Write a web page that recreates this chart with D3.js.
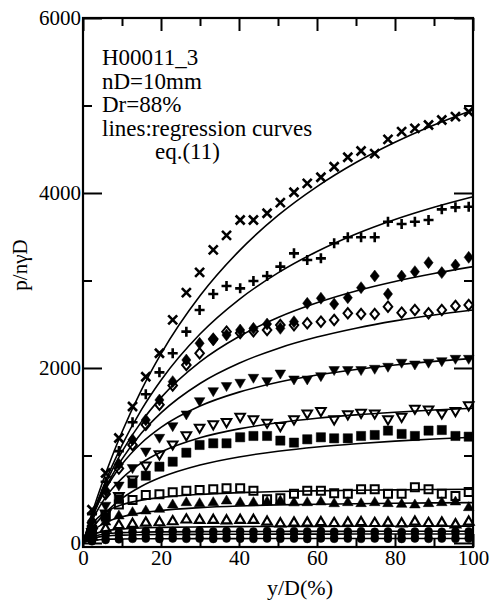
<!DOCTYPE html>
<html>
<head>
<meta charset="utf-8">
<script src="https://cdn.jsdelivr.net/npm/d3@7/dist/d3.min.js"></script>
<style>
  html, body { margin: 0; padding: 0; background: #fff; }
  svg { display: block; }
  text { font-family: "Liberation Serif", "Times New Roman", serif; fill: #000; }
</style>
</head>
<body>
<svg id="chart" width="491" height="602"></svg>
<script>
// Measurement depths y/D (%) shared by all load steps
const yD = [2.3, 5.8, 9.2, 12.7, 16.1, 19.6, 23.0, 26.5, 29.9, 33.4, 36.8, 40.3, 43.7, 47.2, 50.6,
            54.1, 57.5, 61.0, 64.4, 67.9, 71.3, 74.8, 78.2, 81.7, 85.1, 88.6, 92.0, 95.5, 98.9];

// Normalised soil reaction p/nγD for each load step
const pCross = [380, 800, 1200, 1560, 1900, 2168, 2549, 2861, 3093, 3349, 3516, 3691, 3691, 3768, 3889,
                4008, 4110, 4180, 4300, 4408, 4480, 4450, 4613, 4701, 4739, 4777, 4834, 4872, 4929];
const pPlus = [330, 700, 1050, 1380, 1700, 1950, 2168, 2415, 2663, 2846, 2937, 2910, 2994, 3051, 3158,
               3310, 3234, 3253, 3425, 3494, 3494, 3494, 3672, 3646, 3672, 3691, 3813, 3836, 3843];
const pDiamond = [250, 600, 900, 1180, 1406, 1634, 1844, 2091, 2282, 2320, 2377, 2434, 2453, 2503, 2453,
                  2529, 2739, 2797, 2731, 2803, 2918, 3051, 2846, 3051, 3101, 3204, 3090, 3177, 3265];
const pDiamondOpen = [230, 560, 850, 1120, 1350, 1580, 1800, 2034, 2168, 2330, 2415, 2400, 2420, 2434, 2491,
                      2490, 2511, 2529, 2549, 2625, 2617, 2617, 2701, 2632, 2663, 2625, 2663, 2709, 2720];
const pTriDown = [150, 420, 650, 850, 1040, 1196, 1329, 1463, 1615, 1729, 1787, 1825, 1882, 1844, 1931,
                  1863, 1863, 1901, 1970, 1970, 1970, 1985, 2008, 2054, 2034, 2054, 2072, 2099, 2099];
const pTriDownOpen = [120, 330, 530, 720, 880, 1006, 1120, 1223, 1311, 1349, 1375, 1436, 1406, 1368, 1329,
                      1406, 1474, 1501, 1406, 1463, 1482, 1474, 1406, 1436, 1528, 1520, 1474, 1501, 1566];
const pSquare = [100, 300, 500, 682, 769, 872, 929, 1032, 1120, 1139, 1139, 1208, 1223, 1223, 1170,
                 1147, 1185, 1208, 1196, 1196, 1223, 1234, 1284, 1246, 1223, 1284, 1291, 1223, 1215];
const pSquareOpen = [150, 320, 440, 491, 549, 557, 579, 598, 606, 614, 625, 625, 598, 499, 511,
                     564, 598, 598, 568, 564, 614, 614, 564, 564, 636, 614, 564, 537, 583];
const pTriUp = [100, 250, 320, 358, 377, 396, 446, 472, 461, 472, 491, 472, 472, 480, 490,
                470, 472, 480, 460, 472, 461, 472, 461, 453, 446, 461, 472, 480, 415];
const pTriUpOpen = [80, 170, 210, 225, 240, 244, 255, 275, 270, 270, 265, 270, 270, 250, 230,
                    240, 240, 245, 235, 240, 245, 235, 240, 230, 250, 235, 240, 220, 250];
const pDot = [60, 100, 120, 130, 135, 140, 138, 135, 140, 132, 138, 135, 130, 138, 128,
              135, 130, 136, 128, 132, 135, 128, 132, 126, 130, 134, 128, 130, 132];
const pSmallSquare = [40, 70, 85, 95, 100, 98, 102, 96, 100, 95, 100, 98, 102, 96, 100,
                      94, 98, 102, 96, 100, 95, 99, 102, 96, 100, 94, 98, 102, 97];
const pLowDot = [20, 35, 42, 48, 50, 46, 52, 48, 50, 46, 52, 49, 47, 51, 48,
                 50, 46, 52, 48, 50, 47, 51, 49, 46, 52, 48, 50, 47, 51];

// Regression curves, eq.(11), tabulated along y/D
const curveYD = [0, 1, 2.5, 5, 7.5, 10, 15, 20, 30, 40, 50, 60, 70, 80, 90, 100];
const fitCross = [0, 150, 365, 695, 995, 1269, 1751, 2162, 2825, 3336, 3743, 4073, 4348, 4579, 4777, 4948];
const fitPlus = [0, 137, 330, 623, 884, 1119, 1524, 1860, 2388, 2782, 3087, 3331, 3531, 3697, 3837, 3957];
const fitDiamond = [0, 136, 323, 598, 836, 1043, 1387, 1661, 2070, 2360, 2577, 2745, 2880, 2989, 3080, 3158];
const fitDiamondOpen = [0, 130, 306, 560, 775, 958, 1256, 1487, 1823, 2054, 2224, 2353, 2455, 2538, 2606, 2663];
const fitTriDown = [0, 134, 309, 550, 742, 900, 1143, 1321, 1565, 1724, 1836, 1919, 1983, 2034, 2076, 2110];
const fitTriDownOpen = [0, 119, 271, 469, 620, 739, 915, 1039, 1202, 1304, 1374, 1425, 1464, 1494, 1519, 1539];
const fitSquare = [0, 75, 174, 310, 419, 509, 648, 750, 891, 983, 1048, 1097, 1134, 1164, 1188, 1208];
const fitSquareOpen = [0, 113, 223, 332, 395, 437, 490, 521, 556, 575, 588, 596, 602, 607, 611, 614];
const fitTriUp = [0, 66, 138, 216, 265, 299, 344, 372, 404, 423, 435, 443, 449, 454, 458, 461];
const fitTriUpOpen = [0, 45, 95, 130, 150, 160, 172, 178, 184, 187, 189, 190, 191, 192, 193, 193];
const fitDot = [0, 35, 70, 100, 112, 118, 124, 127, 130, 131, 132, 133, 133, 134, 134, 134];
const fitSmallSquare = [0, 30, 55, 75, 85, 90, 95, 97, 99, 100, 101, 101, 102, 102, 102, 102];
const fitLowDot = [0, 18, 30, 40, 44, 46, 48, 49, 50, 50, 51, 51, 51, 51, 51, 51];

// Axis ticks
const xTickLabels = [0, 20, 40, 60, 80, 100];
const xMinorTicks = [10, 30, 50, 70, 90];
const yTickLabels = [0, 2000, 4000, 6000];
const yMinorTicks = [1000, 3000, 5000];

const infoLines = ["H00011_3", "nD=10mm", "Dr=88%", "lines:regression curves"];
const infoEq = "eq.(11)";

// Marker shapes (drawn centred on the point)
const shapes = {
  cross:      { d: "M-4.5,-4.5L4.5,4.5M-4.5,4.5L4.5,-4.5", fill: "none", stroke: 2.6 },
  plus:       { d: "M-5,0L5,0M0,-5L0,5", fill: "none", stroke: 2.6 },
  diamond:    { d: "M0,-6L4.6,0L0,6L-4.6,0Z", fill: "#000", stroke: 0.5 },
  diamondO:   { d: "M0,-5.2L4.3,0L0,5.2L-4.3,0Z", fill: "none", stroke: 2 },
  triDown:    { d: "M-5.3,-4L5.3,-4L0,5Z", fill: "#000", stroke: 0.5 },
  triDownO:   { d: "M-4.8,-3.6L4.8,-3.6L0,4.6Z", fill: "none", stroke: 2 },
  square:     { d: "M-4.6,-4.6h9.2v9.2h-9.2Z", fill: "#000", stroke: 0.5 },
  squareO:    { d: "M-4,-4h8v8h-8Z", fill: "none", stroke: 2 },
  triUp:      { d: "M0,-5L5.3,4L-5.3,4Z", fill: "#000", stroke: 0.5 },
  triUpO:     { d: "M0,-4.6L4.8,3.6L-4.8,3.6Z", fill: "none", stroke: 2.2 },
  dot:        { d: "M-4,0a4,4 0 1,0 8,0a4,4 0 1,0 -8,0Z", fill: "#000", stroke: 0.5 },
  smallSq:    { d: "M-3.5,-3.5h7v7h-7Z", fill: "#000", stroke: 0.5 },
  lowDot:     { d: "M-4,0a4,4 0 1,0 8,0a4,4 0 1,0 -8,0Z", fill: "#000", stroke: 0.5 }
};

const series = [
  { shape: "cross", pts: pCross, fit: fitCross },
  { shape: "plus", pts: pPlus, fit: fitPlus },
  { shape: "diamond", pts: pDiamond, fit: fitDiamond },
  { shape: "diamondO", pts: pDiamondOpen, fit: fitDiamondOpen },
  { shape: "triDown", pts: pTriDown, fit: fitTriDown },
  { shape: "triDownO", pts: pTriDownOpen, fit: fitTriDownOpen },
  { shape: "square", pts: pSquare, fit: fitSquare },
  { shape: "squareO", pts: pSquareOpen, fit: fitSquareOpen },
  { shape: "triUp", pts: pTriUp, fit: fitTriUp },
  { shape: "triUpO", pts: pTriUpOpen, fit: fitTriUpOpen },
  { shape: "dot", pts: pDot, fit: fitDot },
  { shape: "smallSq", pts: pSmallSquare, fit: fitSmallSquare },
  { shape: "lowDot", pts: pLowDot, fit: fitLowDot }
];

const svg = d3.select("#chart");
const plotLeft = 83, plotRight = 473, plotTop = 18, plotBottom = 547;

const x = d3.scaleLinear().domain([0, 100]).range([plotLeft, plotRight]);
const y = d3.scaleLinear().domain([-46, 6000]).range([plotBottom, plotTop]);

// Regression curves
const line = d3.line()
  .x(d => x(d[0]))
  .y(d => y(d[1]))
  .curve(d3.curveMonotoneX);

const gCurves = svg.append("g");
series.forEach(s => {
  gCurves.append("path")
    .attr("d", line(curveYD.map((v, i) => [v, s.fit[i]])))
    .attr("fill", "none")
    .attr("stroke", "#000")
    .attr("stroke-width", 1.6);
});

// Data markers
const gPts = svg.append("g");
series.forEach(s => {
  const sh = shapes[s.shape];
  gPts.selectAll(null)
    .data(yD.map((v, i) => [v, s.pts[i]]))
    .join("path")
    .attr("transform", d => `translate(${x(d[0])},${y(d[1])})`)
    .attr("d", sh.d)
    .attr("fill", sh.fill)
    .attr("stroke", "#000")
    .attr("stroke-width", sh.stroke);
});

// Frame
svg.append("rect")
  .attr("x", plotLeft).attr("y", plotTop)
  .attr("width", plotRight - plotLeft).attr("height", plotBottom - plotTop)
  .attr("fill", "none").attr("stroke", "#000").attr("stroke-width", 2.2);

function styleAxis(g) {
  g.select(".domain").remove();
  g.selectAll(".tick line").attr("stroke", "#000").attr("stroke-width", 2);
  g.selectAll("text").style("font-family", "Liberation Serif").style("font-size", "21px").attr("fill", "#000");
}

// Bottom axis: labelled major ticks and short minor ticks, pointing inward
svg.append("g").attr("transform", `translate(0,${plotBottom})`)
  .call(d3.axisBottom(x).tickValues(xTickLabels).tickSize(-13).tickPadding(3).tickFormat(d3.format("d")))
  .call(styleAxis);
svg.append("g").attr("transform", `translate(0,${plotBottom})`)
  .call(d3.axisBottom(x).tickValues(xMinorTicks).tickSize(-8).tickFormat(""))
  .call(styleAxis);
// Top axis
svg.append("g").attr("transform", `translate(0,${plotTop})`)
  .call(d3.axisTop(x).tickValues(xTickLabels).tickSize(-13).tickFormat(""))
  .call(styleAxis);
svg.append("g").attr("transform", `translate(0,${plotTop})`)
  .call(d3.axisTop(x).tickValues(xMinorTicks).tickSize(-8).tickFormat(""))
  .call(styleAxis);

// Left axis
svg.append("g").attr("transform", `translate(${plotLeft},0)`)
  .call(d3.axisLeft(y).tickValues(yTickLabels).tickSize(-19).tickPadding(2).tickFormat(d3.format("d")))
  .call(styleAxis);
svg.append("g").attr("transform", `translate(${plotLeft},0)`)
  .call(d3.axisLeft(y).tickValues(yMinorTicks).tickSize(-9).tickFormat(""))
  .call(styleAxis);
// Right axis
svg.append("g").attr("transform", `translate(${plotRight},0)`)
  .call(d3.axisRight(y).tickValues(yTickLabels).tickSize(-19).tickFormat(""))
  .call(styleAxis);
svg.append("g").attr("transform", `translate(${plotRight},0)`)
  .call(d3.axisRight(y).tickValues(yMinorTicks).tickSize(-9).tickFormat(""))
  .call(styleAxis);

// Axis titles
svg.append("text")
  .attr("x", 300).attr("y", 595)
  .attr("text-anchor", "middle")
  .style("font-size", "22px")
  .text("y/D(%)");

svg.append("text")
  .attr("transform", "translate(27,265) rotate(-90)")
  .attr("text-anchor", "middle")
  .style("font-size", "21px")
  .text("p/nγD");

// Test description
const info = svg.append("g");
infoLines.forEach((t, i) => {
  info.append("text")
    .attr("x", 102).attr("y", 65 + i * 23.5)
    .style("font-size", "23px")
    .text(t);
});
info.append("text")
  .attr("x", 155).attr("y", 159)
  .style("font-size", "23px")
  .text(infoEq);
</script>
</body>
</html>
